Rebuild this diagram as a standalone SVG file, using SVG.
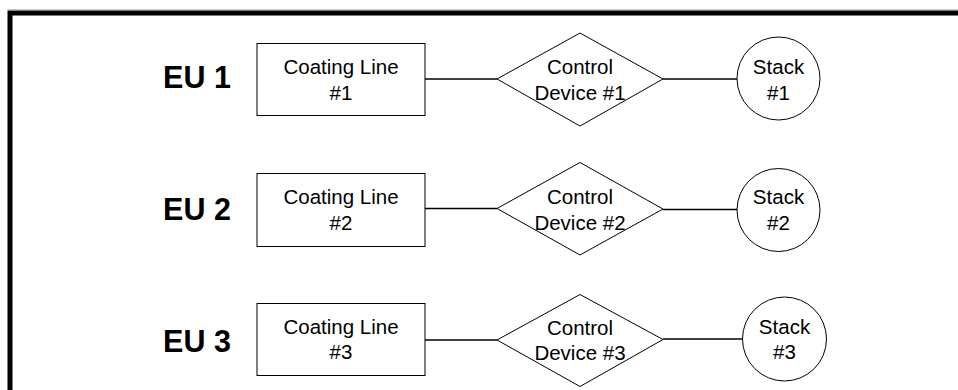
<svg xmlns="http://www.w3.org/2000/svg" width="958" height="390" viewBox="0 0 958 390">
<style>
.shape{fill:#fff;stroke:#000;stroke-width:1}
.conn{stroke:#000;stroke-width:1.5;fill:none}
.t{font-family:"Liberation Sans",Arial,sans-serif;font-size:20.5px;fill:#000;text-anchor:middle}
.eu{font-family:"Liberation Sans",Arial,sans-serif;font-size:30.5px;font-weight:bold;fill:#000;text-anchor:middle}
</style>
<rect width="958" height="390" fill="#fff"/>
<g id="frame">
<line x1="7" y1="9.5" x2="958" y2="9.5" stroke="#c8c8c8" stroke-width="1"/>
<rect x="10" y="13" width="960" height="400" fill="none" stroke="#000" stroke-width="5"/>
</g>
<g id="labels">
<text class="eu" x="197" y="88">EU 1</text>
<text class="eu" x="197" y="220">EU 2</text>
<text class="eu" x="197" y="352">EU 3</text>
</g>
<g id="connectors">
<line class="conn" x1="425" y1="79" x2="497" y2="79"/>
<line class="conn" x1="663" y1="79" x2="737" y2="79"/>
<line class="conn" x1="425" y1="208.5" x2="497" y2="208.5"/>
<line class="conn" x1="663" y1="209.5" x2="737" y2="209.5"/>
<line class="conn" x1="425" y1="340" x2="497" y2="340"/>
<line class="conn" x1="663" y1="339" x2="743" y2="339"/>
</g>
<g id="coating1"><rect class="shape" x="257" y="43.5" width="168" height="72"/><text class="t" x="341" y="73.5">Coating Line</text><text class="t" x="341" y="100">#1</text></g>
<g id="control1"><polygon class="shape" points="497,79 580,33 663,79 580,126"/><text class="t" x="580" y="73.5">Control</text><text class="t" x="580" y="100">Device #1</text></g>
<g id="stack1"><circle class="shape" cx="778.5" cy="78.5" r="41.5"/><text class="t" x="778.5" y="73.5">Stack</text><text class="t" x="778.5" y="100">#1</text></g>
<g id="coating2"><rect class="shape" x="257" y="173.5" width="168" height="73"/><text class="t" x="341" y="203.5">Coating Line</text><text class="t" x="341" y="229.5">#2</text></g>
<g id="control2"><polygon class="shape" points="497,208.5 580,162.5 663,209 580,255"/><text class="t" x="580" y="203.5">Control</text><text class="t" x="580" y="229.5">Device #2</text></g>
<g id="stack2"><circle class="shape" cx="778.5" cy="210" r="41.5"/><text class="t" x="778.5" y="204">Stack</text><text class="t" x="778.5" y="230">#2</text></g>
<g id="coating3"><rect class="shape" x="257" y="303.5" width="168" height="72"/><text class="t" x="341" y="334">Coating Line</text><text class="t" x="341" y="359">#3</text></g>
<g id="control3"><polygon class="shape" points="497,340 580,294.5 663,339.5 580,386.5"/><text class="t" x="580" y="334.5">Control</text><text class="t" x="580" y="360">Device #3</text></g>
<g id="stack3"><circle class="shape" cx="784.5" cy="339" r="42"/><text class="t" x="784.5" y="334">Stack</text><text class="t" x="784.5" y="359">#3</text></g>
</svg>
